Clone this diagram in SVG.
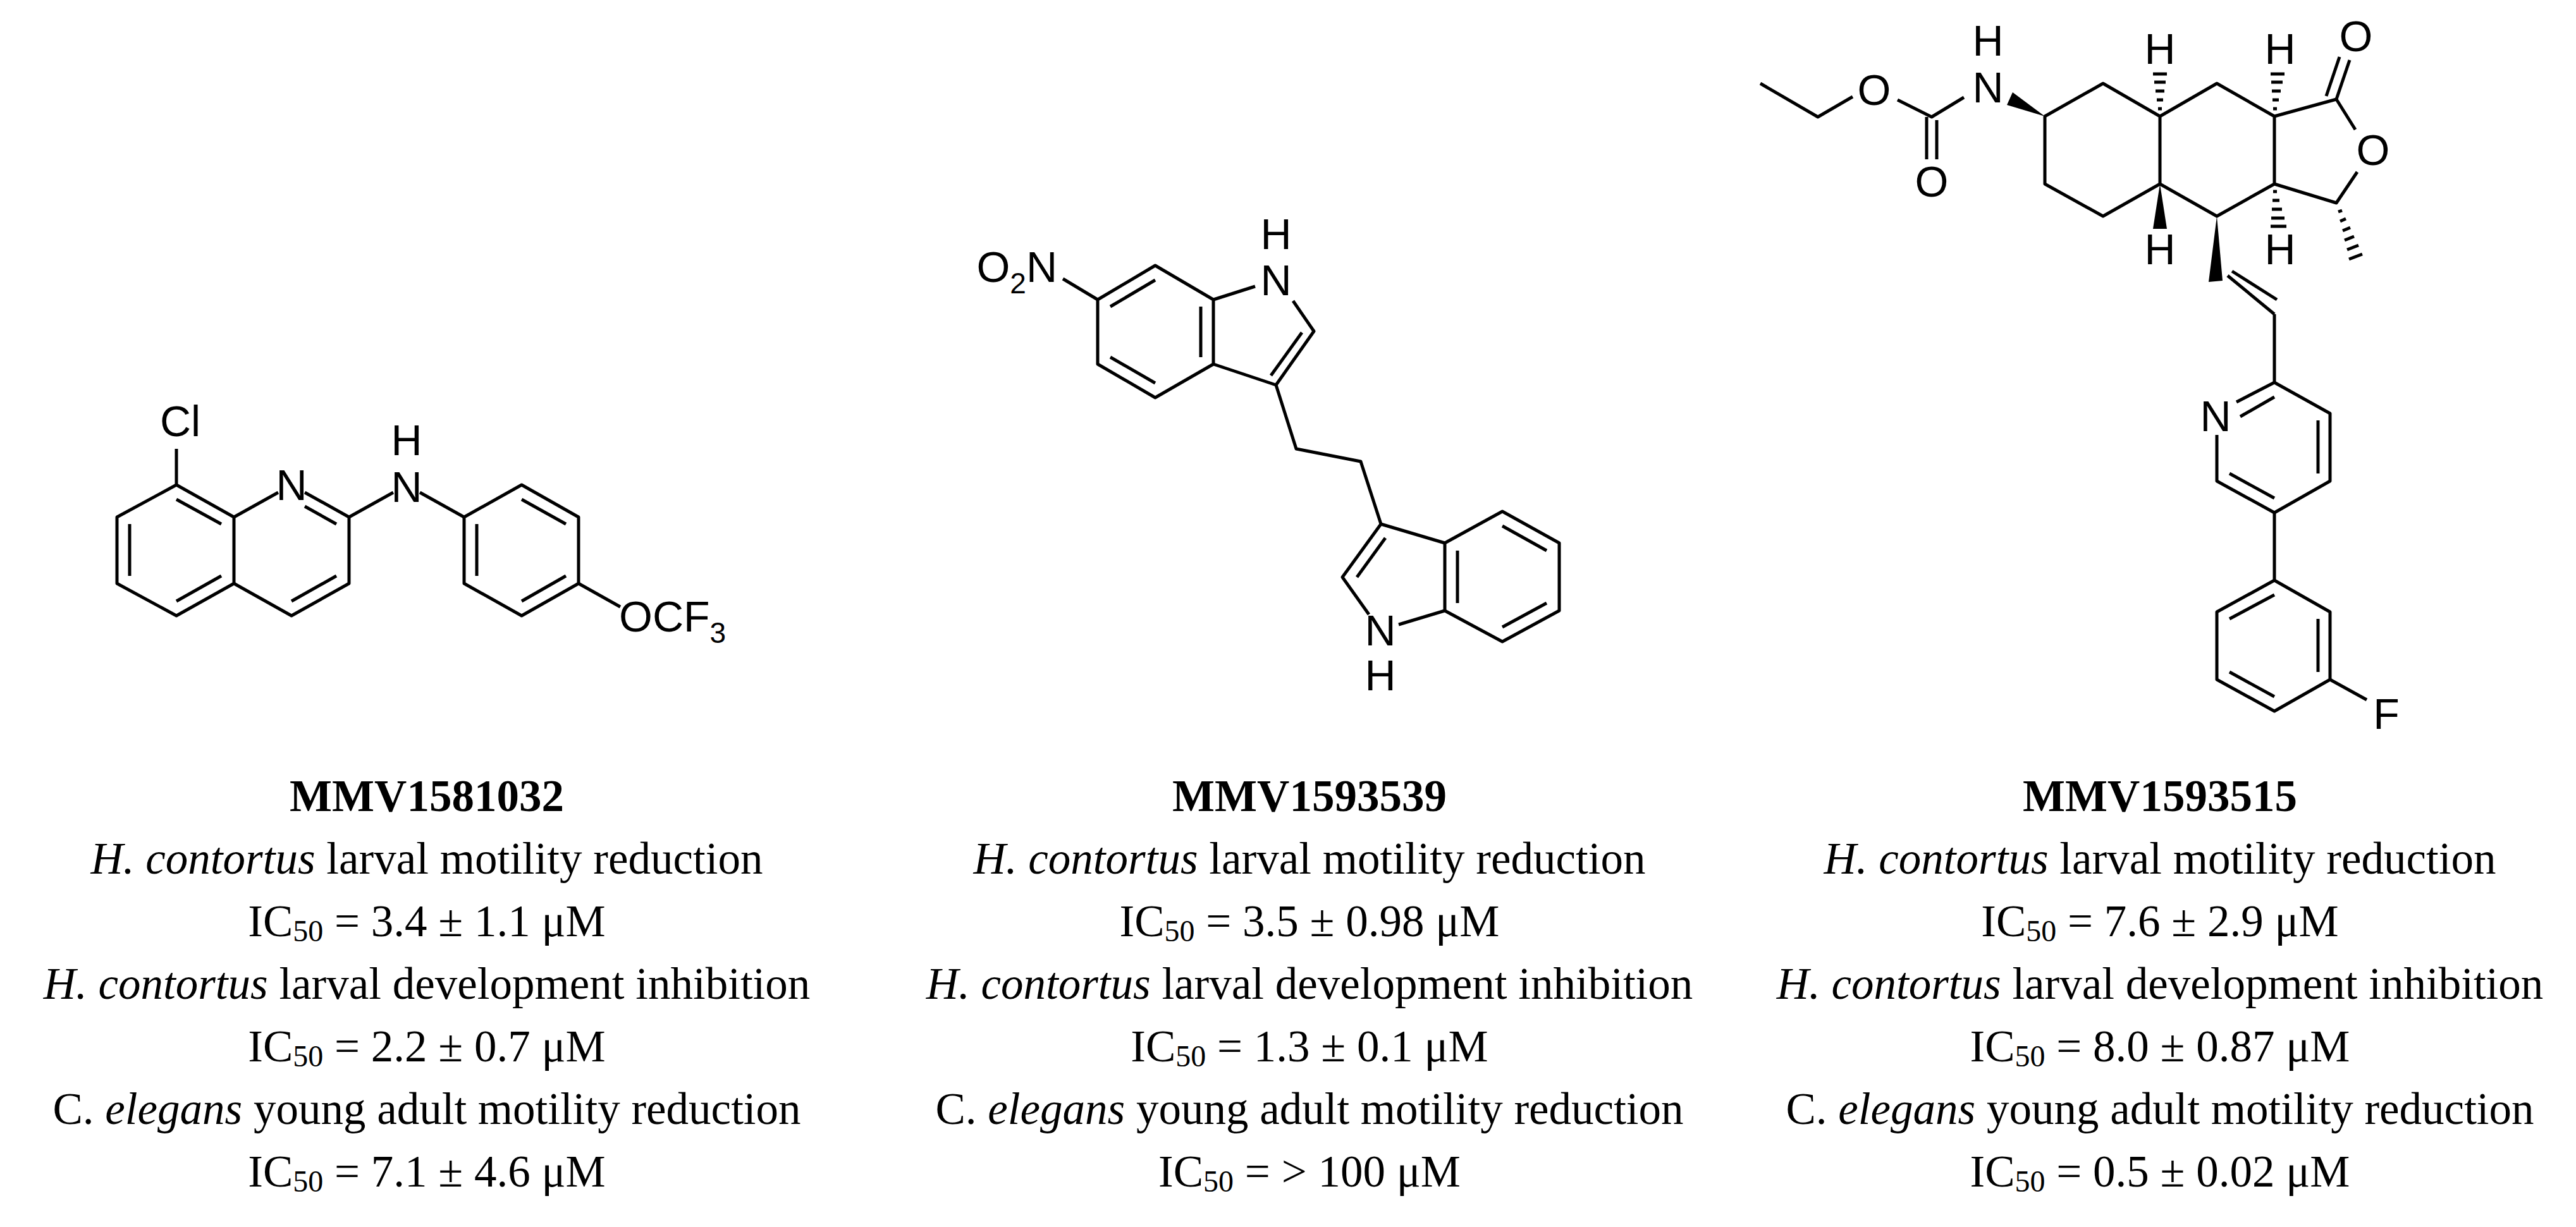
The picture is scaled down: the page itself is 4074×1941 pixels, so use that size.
<svg xmlns="http://www.w3.org/2000/svg" width="4074" height="1941" viewBox="0 0 4074 1941">
<style>
.b{stroke:#000;stroke-width:5;fill:none;stroke-linejoin:round}
.a{font-family:"Liberation Sans",Arial,sans-serif;font-size:68px;text-anchor:middle;fill:#000}
.t{font-family:"Liberation Serif","Times New Roman",serif;font-size:71px;text-anchor:middle;fill:#000}
.bd{font-weight:bold}
</style>
<rect width="4074" height="1941" fill="#fff"/>
<g id="mol1">
<g class="b">
<polygon points="279,767 370,818 370,923 279,974 185,923 185,818"/>
<polyline points="440,779 370,818"/>
<polyline points="370,923 461,974 552,923 552,818 482,779"/>
<line x1="279" y1="767" x2="279" y2="710"/>
<line x1="279" y1="790" x2="350" y2="829"/><line x1="350" y1="911" x2="279" y2="951"/><line x1="205" y1="911" x2="205" y2="829"/>
<line x1="482" y1="801" x2="532" y2="829"/><line x1="532" y1="911" x2="461" y2="951"/>
<line x1="552" y1="818" x2="622" y2="779"/><line x1="664" y1="779" x2="734" y2="818"/>
<polygon points="734,818 825,767 915,818 915,923 825,974 734,923"/>
<line x1="825" y1="790" x2="895" y2="829"/><line x1="895" y1="911" x2="825" y2="951"/><line x1="754" y1="829" x2="754" y2="911"/>
<line x1="915" y1="923" x2="981" y2="960"/>
</g>
<text class="a" x="285" y="690">Cl</text>
<text class="a" x="461" y="791">N</text>
<text class="a" x="643" y="794">N</text>
<text class="a" x="643" y="720">H</text>
<text class="a" x="979" y="999" style="text-anchor:start">OCF<tspan font-size="46" dy="18">3</tspan></text>
</g>
<g id="mol2">
<g class="b">
<polygon points="1827,420 1919,474 1919,576 1827,629 1736,576 1736,474"/>
<line x1="1756" y1="485" x2="1827" y2="443"/><line x1="1827" y1="606" x2="1756" y2="565"/><line x1="1899" y1="485" x2="1899" y2="565"/>
<line x1="1681" y1="441" x2="1736" y2="474"/>
<line x1="1919" y1="474" x2="1985" y2="453"/>
<polyline points="2045,476 2078,524 2018,609 1919,576"/>
<line x1="2059" y1="526" x2="2010" y2="594"/>
<polyline points="2018,609 2050,710 2152,730 2184,829"/>
<polyline points="2165,972 2123,913 2184,829 2285,859"/>
<line x1="2191" y1="851" x2="2146" y2="913"/>
<line x1="2212" y1="988" x2="2285" y2="966"/>
<polygon points="2285,859 2376,809 2466,859 2466,966 2376,1015 2285,966"/>
<line x1="2305" y1="871" x2="2305" y2="954"/><line x1="2376" y1="832" x2="2446" y2="871"/><line x1="2446" y1="954" x2="2376" y2="992"/>
</g>
<text class="a" x="1672" y="446" style="text-anchor:end">O<tspan font-size="46" dy="18">2</tspan><tspan dy="-18">N</tspan></text>
<text class="a" x="2018" y="467">N</text>
<text class="a" x="2018" y="394">H</text>
<text class="a" x="2183" y="1021">N</text>
<text class="a" x="2183" y="1092">H</text>
</g>
<g id="mol3">
<g class="b">
<polyline points="2784,132 2875,185 2930,153"/>
<polyline points="3001,158 3055,185 3106,154"/>
<line x1="3047" y1="185" x2="3047" y2="252"/><line x1="3063" y1="190" x2="3063" y2="252"/>
<polygon points="3234,184 3326,132 3416,184 3416,291 3326,342 3234,291"/>
<polyline points="3416,184 3506,132 3597,184 3597,291 3506,342 3416,291"/>
<polyline points="3597,184 3695,157 3725,205"/>
<polyline points="3728,272 3695,321 3597,291"/>
<line x1="3695" y1="157" x2="3716" y2="95"/><line x1="3679" y1="152" x2="3700" y2="90"/>
<line x1="3523" y1="436" x2="3597" y2="497"/>
<line x1="3530" y1="429" x2="3601" y2="474"/>
<line x1="3597" y1="497" x2="3597" y2="605"/>
<polyline points="3537,636 3597,605 3685,654 3685,761 3597,811 3506,761 3506,688"/>
<line x1="3543" y1="659" x2="3597" y2="628"/><line x1="3666" y1="665" x2="3666" y2="749"/><line x1="3597" y1="788" x2="3526" y2="749"/>
<line x1="3597" y1="811" x2="3597" y2="918"/>
<polygon points="3597,918 3685,968 3685,1075 3597,1125 3506,1075 3506,968"/>
<line x1="3597" y1="941" x2="3526" y2="979"/><line x1="3666" y1="979" x2="3666" y2="1063"/><line x1="3597" y1="1102" x2="3526" y2="1063"/>
<line x1="3685" y1="1075" x2="3743" y2="1107"/>
</g>
<g fill="#000">
<polygon points="3234,184 3183,146 3174,166"/>
<polygon points="3416,291 3405,362 3427,362"/>
<polygon points="3506,342 3493,446 3515,444"/>
</g>
<g stroke="#000" stroke-width="5">
<line x1="3413" y1="172" x2="3419" y2="172"/><line x1="3411" y1="158" x2="3421" y2="158"/><line x1="3409" y1="144" x2="3423" y2="144"/><line x1="3407" y1="130" x2="3425" y2="130"/><line x1="3405" y1="117" x2="3427" y2="117"/>
<line x1="3595" y1="172" x2="3601" y2="172"/><line x1="3594" y1="158" x2="3604" y2="158"/><line x1="3593" y1="144" x2="3607" y2="144"/><line x1="3592" y1="130" x2="3610" y2="130"/><line x1="3591" y1="117" x2="3613" y2="117"/>
<line x1="3595" y1="303" x2="3601" y2="303"/><line x1="3594" y1="317" x2="3605" y2="317"/><line x1="3593" y1="331" x2="3609" y2="331"/><line x1="3592" y1="345" x2="3613" y2="345"/><line x1="3591" y1="358" x2="3616" y2="358"/>
<line x1="3698" y1="335" x2="3704" y2="333"/><line x1="3701" y1="350" x2="3710" y2="346"/><line x1="3705" y1="365" x2="3717" y2="360"/><line x1="3708" y1="380" x2="3723" y2="374"/><line x1="3712" y1="395" x2="3730" y2="388"/><line x1="3715" y1="410" x2="3736" y2="402"/>
</g>
<text class="a" x="2964" y="166">O</text>
<text class="a" x="3055" y="311">O</text>
<text class="a" x="3144" y="162">N</text>
<text class="a" x="3144" y="88">H</text>
<text class="a" x="3416" y="101">H</text>
<text class="a" x="3606" y="101">H</text>
<text class="a" x="3416" y="418">H</text>
<text class="a" x="3606" y="418">H</text>
<text class="a" x="3726" y="81">O</text>
<text class="a" x="3753" y="261">O</text>
<text class="a" x="3504" y="682">N</text>
<text class="a" x="3774" y="1153">F</text>
</g>
<g id="labels">
<text class="t bd" x="675" y="1283">MMV1581032</text>
<text class="t" x="675" y="1382"><tspan font-style="italic">H. contortus</tspan> larval motility reduction</text>
<text class="t" x="675" y="1481">IC<tspan font-size="48" dy="8">50</tspan><tspan dy="-8"> = 3.4 ± 1.1 μM</tspan></text>
<text class="t" x="675" y="1580"><tspan font-style="italic">H. contortus</tspan> larval development inhibition</text>
<text class="t" x="675" y="1679">IC<tspan font-size="48" dy="8">50</tspan><tspan dy="-8"> = 2.2 ± 0.7 μM</tspan></text>
<text class="t" x="675" y="1778">C. <tspan font-style="italic">elegans</tspan> young adult motility reduction</text>
<text class="t" x="675" y="1877">IC<tspan font-size="48" dy="8">50</tspan><tspan dy="-8"> = 7.1 ± 4.6 μM</tspan></text>
<text class="t bd" x="2071" y="1283">MMV1593539</text>
<text class="t" x="2071" y="1382"><tspan font-style="italic">H. contortus</tspan> larval motility reduction</text>
<text class="t" x="2071" y="1481">IC<tspan font-size="48" dy="8">50</tspan><tspan dy="-8"> = 3.5 ± 0.98 μM</tspan></text>
<text class="t" x="2071" y="1580"><tspan font-style="italic">H. contortus</tspan> larval development inhibition</text>
<text class="t" x="2071" y="1679">IC<tspan font-size="48" dy="8">50</tspan><tspan dy="-8"> = 1.3 ± 0.1 μM</tspan></text>
<text class="t" x="2071" y="1778">C. <tspan font-style="italic">elegans</tspan> young adult motility reduction</text>
<text class="t" x="2071" y="1877">IC<tspan font-size="48" dy="8">50</tspan><tspan dy="-8"> = &gt; 100 μM</tspan></text>
<text class="t bd" x="3416" y="1283">MMV1593515</text>
<text class="t" x="3416" y="1382"><tspan font-style="italic">H. contortus</tspan> larval motility reduction</text>
<text class="t" x="3416" y="1481">IC<tspan font-size="48" dy="8">50</tspan><tspan dy="-8"> = 7.6 ± 2.9 μM</tspan></text>
<text class="t" x="3416" y="1580"><tspan font-style="italic">H. contortus</tspan> larval development inhibition</text>
<text class="t" x="3416" y="1679">IC<tspan font-size="48" dy="8">50</tspan><tspan dy="-8"> = 8.0 ± 0.87 μM</tspan></text>
<text class="t" x="3416" y="1778">C. <tspan font-style="italic">elegans</tspan> young adult motility reduction</text>
<text class="t" x="3416" y="1877">IC<tspan font-size="48" dy="8">50</tspan><tspan dy="-8"> = 0.5 ± 0.02 μM</tspan></text>
</g>
</svg>
